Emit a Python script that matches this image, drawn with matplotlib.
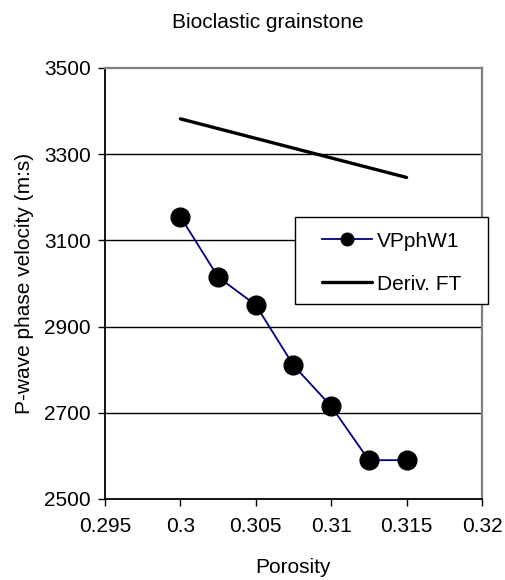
import matplotlib
matplotlib.use("Agg")
import matplotlib.pyplot as plt
from matplotlib.patches import Rectangle

plt.rcParams['font.family'] = ['Liberation Sans', 'DejaVu Sans']

porosity = [0.3, 0.3025, 0.305, 0.3075, 0.31, 0.3125, 0.315]
vp_phw1 = [3155, 3015, 2950, 2810, 2715, 2590, 2590]

deriv_porosity = [0.3, 0.315]
deriv_ft = [3382, 3246]

x_ticks = [0.295, 0.3, 0.305, 0.31, 0.315, 0.32]
x_tick_labels = ['0.295', '0.3', '0.305', '0.31', '0.315', '0.32']
y_ticks = [2500, 2700, 2900, 3100, 3300, 3500]

FS = 15

fig = plt.figure(figsize=(5.06, 5.8), dpi=100)
ax = fig.add_axes([0.2075, 0.1397, 0.745, 0.7431])

ax.set_xlim(0.295, 0.32)
ax.set_ylim(2500, 3500)

for y in y_ticks[1:-1]:
    ax.axhline(y, color='black', lw=1.0, zorder=1)

ax.plot(porosity, vp_phw1, color='#000080', lw=1.3, marker='o',
        markersize=13.5, markerfacecolor='black', markeredgecolor='black',
        label='VPphW1', zorder=3)
ax.plot(deriv_porosity, deriv_ft, color='black', lw=2.4,
        label='Deriv. FT', zorder=3, solid_capstyle='round')

ax.set_xticks(x_ticks)
ax.set_xticklabels(x_tick_labels)
ax.set_yticks(y_ticks)
ax.tick_params(direction='out', length=5, width=1, labelsize=FS,
               colors='black')
ax.tick_params(axis='x', pad=8)
ax.tick_params(axis='y', pad=5)

for side in ['left', 'bottom']:
    ax.spines[side].set_color('black')
    ax.spines[side].set_linewidth(1.3)
for side in ['top', 'right']:
    ax.spines[side].set_color('#808080')
    ax.spines[side].set_linewidth(1.6)

ax.set_xlabel('Porosity', fontsize=FS, labelpad=16)
ax.set_ylabel('P-wave phase velocity (m:s)', fontsize=FS, labelpad=7.5)

fig.text(268 / 506, 1 - 22 / 580, 'Bioclastic grainstone', fontsize=FS,
         ha='center', va='center')

# legend box drawn as its own white rectangle, entries placed inside it
box = Rectangle((0.504, 0.4524), 0.512, 0.2019, transform=ax.transAxes,
                facecolor='white', edgecolor='black', lw=1.0,
                clip_on=False, zorder=4)
ax.add_patch(box)

leg = ax.legend(loc='upper left', bbox_to_anchor=(0.5756, 0.620),
                frameon=False, fontsize=FS, borderpad=0, borderaxespad=0,
                handlelength=2.4, handletextpad=0.24, labelspacing=1.15,
                markerscale=0.67)
leg.set_zorder(5)

fig.savefig('out.png', dpi=100, facecolor='white')
